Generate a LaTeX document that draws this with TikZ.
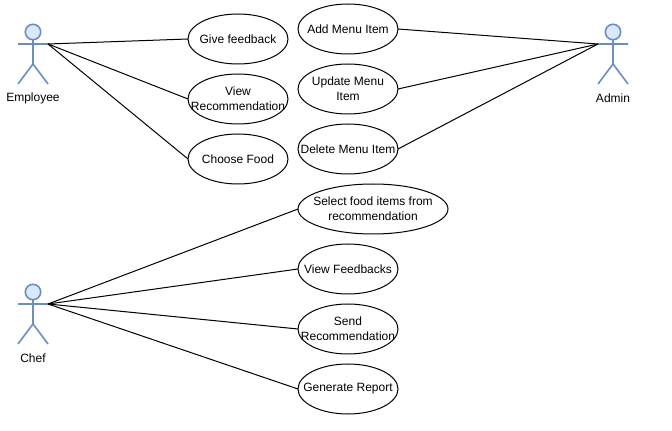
\documentclass[tikz,border=0pt]{standalone}
\usepackage{fontspec}
\setmainfont{Liberation Sans}
\usetikzlibrary{shapes.geometric}
\definecolor{actorline}{HTML}{6C8EBF}
\definecolor{actorfill}{HTML}{DAE8FC}
\tikzset{
  x=0.75pt,y=-0.75pt,
  casetext/.style={inner sep=0pt,outer sep=0pt,align=center,font=\fontsize{9}{11.25}\selectfont},
  usecase/.style={draw=black,line width=0.75pt,fill=white,ellipse,inner sep=0pt,outer sep=0pt,minimum width=75pt,minimum height=37.5pt,label={[casetext]center:#1}},
  widecase/.style={usecase={#1},minimum width=112.5pt},
  actorlabel/.style={inner sep=0pt,font=\fontsize{9}{11.25}\selectfont},
  link/.style={draw=black,line width=0.75pt},
  actor/.pic={
    \draw[actorline,line width=1.2pt,fill=actorfill] (0,-12) circle[radius=7.7];
    \draw[actorline,line width=1.2pt] (0,-4.5) -- (0,20) (-15,0) -- (15,0) (-15,40) -- (0,20) -- (15,40);
    \coordinate (-l) at (-15,0);
    \coordinate (-r) at (15,0);
  }
}
\begin{document}
\begin{tikzpicture}
\useasboundingbox (0,0) rectangle (672,431);
\fill[white] (0,0) rectangle (672,431);
\pic (emp) at (33,44) {actor};
\pic (chef) at (33,304) {actor};
\pic (adm) at (613,44) {actor};
\node[actorlabel] (emplabel) at (33,98.5) {Employee};
\node[actorlabel] (cheflabel) at (33,358) {Chef};
\node[actorlabel] (admlabel) at (613,98) {Admin};
\node[usecase={Give feedback}] (give) at (238,39) {};
\node[usecase={View\\Recommendation}] (view) at (238,99) {};
\node[usecase={Choose Food}] (choose) at (238,159) {};
\node[usecase={Add Menu Item}] (add) at (348,29) {};
\node[usecase={Update Menu\\Item}] (update) at (348,89) {};
\node[usecase={Delete Menu Item}] (delete) at (348,149) {};
\node[widecase={Select food items from\\recommendation}] (select) at (373,209) {};
\node[usecase={View Feedbacks}] (feed) at (348,269) {};
\node[usecase={Send\\Recommendation}] (send) at (348,329) {};
\node[usecase={Generate Report}] (report) at (348,389) {};
\foreach \t in {give,view,choose} \draw[link] (emp-r) -- (\t.west);
\foreach \t in {add,update,delete} \draw[link] (\t.east) -- (adm-l);
\foreach \t in {select,feed,send,report} \draw[link] (chef-r) -- (\t.west);
\end{tikzpicture}
\end{document}
